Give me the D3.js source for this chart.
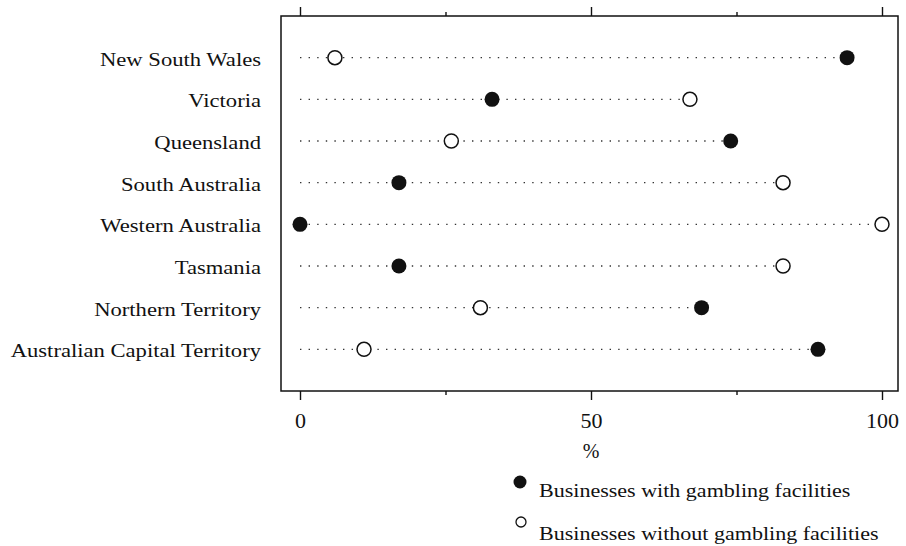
<!DOCTYPE html>
<html>
<head>
<meta charset="utf-8">
<script src="https://cdn.jsdelivr.net/npm/d3@7"></script>
<style>
  html, body { margin: 0; padding: 0; background: #fff; }
  svg { display: block; }
  text { font-family: "Liberation Serif", "Times New Roman", serif; fill: #111; }
</style>
</head>
<body>
<svg id="chart" width="906" height="546"></svg>
<script>
// States and territories, top to bottom
const categories = [
  "New South Wales", "Victoria", "Queensland", "South Australia",
  "Western Australia", "Tasmania", "Northern Territory", "Australian Capital Territory"
];
// Percentage of businesses with gambling facilities
const withGambling = [94, 33, 74, 17, 0, 17, 69, 89];
// Percentage of businesses without gambling facilities
const withoutGambling = [6, 67, 26, 83, 100, 83, 31, 11];
const majorTicks = [0, 50, 100];
const minorTicks = [25, 75];
const legendLabels = ["Businesses with gambling facilities", "Businesses without gambling facilities"];
const axisTitle = "%";

const svg = d3.select("#chart");
const frame = { left: 281, right: 898, top: 16, bottom: 391 };

const x = d3.scaleLinear().domain([0, 100]).range([300, 882]);
const y = d3.scalePoint().domain(categories).range([frame.top, frame.bottom]).padding(1);

const ink = "#111";
const labelStretch = 1.19;
const legendStretch = 1.16;

// Dotted guide lines from zero to the larger value of each row
svg.append("g").selectAll("line")
  .data(categories)
  .join("line")
  .attr("x1", x(0))
  .attr("x2", (d, i) => x(Math.max(withGambling[i], withoutGambling[i])))
  .attr("y1", d => y(d))
  .attr("y2", d => y(d))
  .attr("stroke", "#333")
  .attr("stroke-width", 1.4)
  .attr("stroke-dasharray", "1.4,7.2");

// Plot frame
svg.append("rect")
  .attr("x", frame.left).attr("y", frame.top)
  .attr("width", frame.right - frame.left)
  .attr("height", frame.bottom - frame.top)
  .attr("fill", "none").attr("stroke", ink).attr("stroke-width", 1.5);

// Bottom axis: labelled major ticks, short minor ticks
const bottomMajor = svg.append("g")
  .attr("transform", `translate(0,${frame.bottom})`)
  .call(d3.axisBottom(x).tickValues(majorTicks).tickSize(9).tickPadding(12).tickFormat(d3.format("d")));
const bottomMinor = svg.append("g")
  .attr("transform", `translate(0,${frame.bottom})`)
  .call(d3.axisBottom(x).tickValues(minorTicks).tickSize(4).tickFormat(""));
// Top axis mirrors the tick marks without labels
const topMajor = svg.append("g")
  .attr("transform", `translate(0,${frame.top})`)
  .call(d3.axisTop(x).tickValues(majorTicks).tickSize(9).tickFormat(""));
const topMinor = svg.append("g")
  .attr("transform", `translate(0,${frame.top})`)
  .call(d3.axisTop(x).tickValues(minorTicks).tickSize(4).tickFormat(""));

[bottomMajor, bottomMinor, topMajor, topMinor].forEach(g => {
  g.select(".domain").remove();
  g.selectAll(".tick line").attr("stroke", ink).attr("stroke-width", 1.4);
});
bottomMajor.selectAll(".tick text")
  .attr("font-size", 22)
  .attr("fill", ink)
  .style("font-family", "'Liberation Serif', 'Times New Roman', serif");

// Axis title
svg.append("text")
  .attr("x", x(50)).attr("y", 458)
  .attr("text-anchor", "middle")
  .attr("font-size", 20)
  .text(axisTitle);

// Row labels, right-aligned against the frame
svg.append("g").selectAll("text")
  .data(categories)
  .join("text")
  .attr("transform", d => `translate(261,${y(d) + 8}) scale(${labelStretch},1)`)
  .attr("text-anchor", "end")
  .attr("font-size", 19)
  .text(d => d);

// Open markers: businesses without gambling facilities
svg.append("g").selectAll("circle")
  .data(categories)
  .join("circle")
  .attr("cx", (d, i) => x(withoutGambling[i]))
  .attr("cy", d => y(d))
  .attr("r", 7)
  .attr("fill", "#fff")
  .attr("stroke", ink)
  .attr("stroke-width", 1.5);

// Filled markers: businesses with gambling facilities
svg.append("g").selectAll("circle")
  .data(categories)
  .join("circle")
  .attr("cx", (d, i) => x(withGambling[i]))
  .attr("cy", d => y(d))
  .attr("r", 7.5)
  .attr("fill", ink);

// Legend
const legend = svg.append("g");
legend.append("circle")
  .attr("cx", 520).attr("cy", 482).attr("r", 6.5).attr("fill", ink);
legend.append("text")
  .attr("transform", `translate(539,497) scale(${legendStretch},1)`)
  .attr("font-size", 19)
  .text(legendLabels[0]);
legend.append("circle")
  .attr("cx", 521).attr("cy", 522).attr("r", 5)
  .attr("fill", "#fff").attr("stroke", ink).attr("stroke-width", 1.3);
legend.append("text")
  .attr("transform", `translate(539,540) scale(${legendStretch},1)`)
  .attr("font-size", 19)
  .text(legendLabels[1]);
</script>
</body>
</html>
